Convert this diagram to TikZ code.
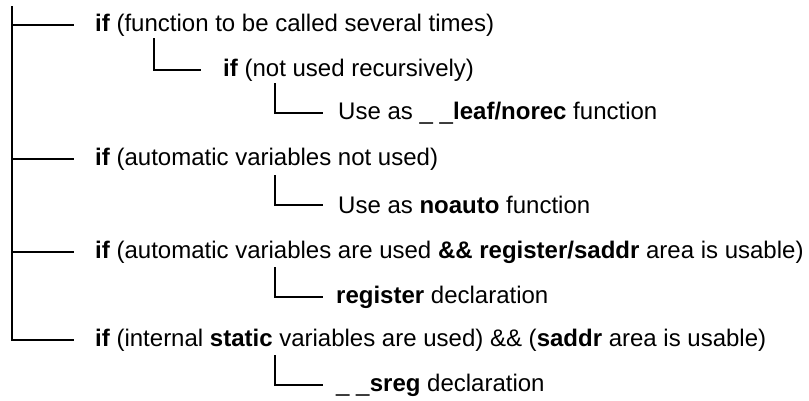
\documentclass[tikz,border=0pt]{standalone}
\usepackage{fontspec}
\setmainfont{Liberation Sans}
\usetikzlibrary{positioning}
\tikzset{
  cond/.style={anchor=west,inner sep=0pt,font=\fontsize{24}{28}\selectfont},
  branch/.style={line width=1.3pt,line cap=rect}
}

\begin{document}
\begin{tikzpicture}[x=1pt,y=-1pt]
  \useasboundingbox (0,0) rectangle (809,400);
  \node[cond] (c1) at (95,25) {\textbf{if} (function to be called several times)};
  \node[cond] (c11) at (223,70) {\textbf{if} (not used recursively)};
  \node[cond] (u11) at (338,113) {Use as \_ \_\textbf{leaf/norec} function};
  \node[cond] (c2) at (95,159) {\textbf{if} (automatic variables not used)};
  \node[cond] (u2) at (338,205) {Use as \textbf{noauto} function};
  \node[cond] (c3) at (95,252) {\textbf{if} (automatic variables are used \textbf{\&\& register/saddr} area is usable)};
  \node[cond] (u3) at (336,297) {\textbf{register} declaration};
  \node[cond] (c4) at (95,340) {\textbf{if} (internal \textbf{static} variables are used) \&\& (\textbf{saddr} area is usable)};
  \node[cond] (u4) at (336,385) {\_ \_\textbf{sreg} declaration};
  % trunk and its branches
  \coordinate (top) at (12,7);
  \coordinate (j1) at (12,25);
  \coordinate (j2) at (12,159);
  \coordinate (j3) at (12,252);
  \draw[branch] (top) |- ([xshift=-22pt]c4.west);
  \draw[branch] (j1) -- ([xshift=-22pt]c1.west);
  \draw[branch] (j2) -- ([xshift=-22pt]c2.west);
  \draw[branch] (j3) -- ([xshift=-22pt]c3.west);
  % nested branches
  \coordinate (s11) at (154,39);
  \coordinate (s111) at (275,84);
  \coordinate (s2) at (275,176);
  \coordinate (s3) at (275,268);
  \coordinate (s4) at (275,356);
  \draw[branch] (s11) |- ([xshift=-23pt]c11.west);
  \draw[branch] (s111) |- ([xshift=-16pt]u11.west);
  \draw[branch] (s2) |- ([xshift=-16pt]u2.west);
  \draw[branch] (s3) |- ([xshift=-14pt]u3.west);
  \draw[branch] (s4) |- ([xshift=-14pt]u4.west);
\end{tikzpicture}
\end{document}
